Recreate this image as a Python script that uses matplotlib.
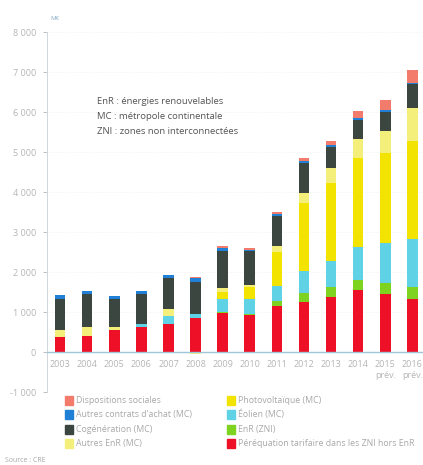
import matplotlib
matplotlib.use("Agg")
import matplotlib.pyplot as plt
from matplotlib.patches import Rectangle
import numpy as np

plt.rcParams['font.family'] = ['Open Sans', 'DejaVu Sans']

years = ["2003", "2004", "2005", "2006", "2007", "2008", "2009", "2010",
         "2011", "2012", "2013", "2014", "2015\nprév.", "2016\nprév."]

# Charges de service public de l'électricité, en M€
perequation = [375, 410, 540, 620, 705, 850, 980, 930, 1160, 1240, 1385, 1550, 1450, 1325]
enr_zni = [0, 0, 0, 0, 0, 0, 20, 30, 125, 240, 250, 250, 285, 310]
eolien = [0, 0, 0, 70, 185, 110, 325, 370, 375, 550, 650, 820, 985, 1185]
photovoltaique = [0, 0, 0, 0, 0, 0, 175, 290, 835, 1700, 1950, 2225, 2250, 2465]
autres_enr = [170, 210, 80, 20, 190, -40, 100, 60, 165, 235, 360, 480, 565, 810]
cogeneration = [790, 835, 710, 750, 775, 800, 935, 835, 750, 765, 525, 475, 475, 610]
autres_contrats = [85, 65, 60, 60, 75, 85, 65, 40, 30, 40, 50, 40, 30, 20]
dispositions_sociales = [0, 0, 0, 0, 0, 40, 60, 50, 60, 70, 110, 180, 265, 325]

series = [
    ("Péréquation tarifaire dans les ZNI hors EnR", perequation, "#ee1026"),
    ("EnR (ZNI)", enr_zni, "#7ed321"),
    ("Éolien (MC)", eolien, "#5fd2e6"),
    ("Photovoltaïque (MC)", photovoltaique, "#f2e400"),
    ("Autres EnR (MC)", autres_enr, "#f3ef7a"),
    ("Cogénération (MC)", cogeneration, "#3c4641"),
    ("Autres contrats d'achat (MC)", autres_contrats, "#1f80d6"),
    ("Dispositions sociales", dispositions_sociales, "#f27b6b"),
]

W, H = 423, 465
fig = plt.figure(figsize=(W / 100, H / 100), dpi=100)
ax = fig.add_axes([47 / W, 1 - 392 / H, (W - 47) / W, 360 / H])

x = np.arange(len(years))
pos_base = np.zeros(len(years))
neg_base = np.zeros(len(years))
for name, vals, color in series:
    v = np.array(vals, dtype=float)
    pos = np.where(v > 0, v, 0)
    neg = np.where(v < 0, v, 0)
    ax.bar(x, pos, bottom=pos_base, width=0.39, color=color, linewidth=0)
    ax.bar(x, neg, bottom=neg_base, width=0.39, color=color, linewidth=0)
    pos_base += pos
    neg_base += neg

ax.set_xlim(-0.48, 13.39)
ax.set_ylim(-1000, 8000)
ticks = list(range(-1000, 8001, 1000))
ax.set_yticks(ticks)
ax.set_yticklabels([("%d" % t if abs(t) < 1000 else
                     ("-" if t < 0 else "") + "%d 000" % (abs(t) // 1000))
                    for t in ticks])
ax.set_xticks(x)
ax.set_xticklabels(years)

grey = "#b5b5b5"
ax.tick_params(axis="y", colors=grey, labelsize=6.5, length=3, width=0.6, pad=5)
ax.tick_params(axis="x", colors=grey, labelsize=6.5, length=0, pad=6)
for s in ["top", "right"]:
    ax.spines[s].set_visible(False)
# year labels sit right under the zero line
ax.spines["bottom"].set_position(("data", 0))
ax.spines["bottom"].set_color("#9fc6d8")
ax.spines["bottom"].set_linewidth(1.0)
ax.spines["left"].set_color("#d0d6da")
ax.spines["left"].set_linewidth(0.7)
ax.grid(axis="y", color="#efefef", linestyle=":", linewidth=0.6)
ax.set_axisbelow(True)

fig.text(50 / W, 1 - 18 / H, "M€", fontsize=4.5, color="#8fb0c8", va="center")

notes = ["EnR : énergies renouvelables",
         "MC : métropole continentale",
         "ZNI : zones non interconnectées"]
for i, t in enumerate(notes):
    fig.text(97 / W, 1 - (101 + 15 * i) / H, t, fontsize=6.8, color="#555555",
             va="center")

# Legend, two columns of four entries
legend_cols = [
    [series[7], series[6], series[5], series[4]],
    [series[3], series[2], series[1], series[0]],
]
col_x = [65, 227]
row_y = [400, 414.5, 429, 443.5]
for cx, col in zip(col_x, legend_cols):
    for ry, (name, _, color) in zip(row_y, col):
        fig.patches.append(Rectangle((cx / W, 1 - (ry + 4.5) / H), 8 / W, 9 / H,
                                     transform=fig.transFigure, color=color))
        fig.text((cx + 11) / W, 1 - ry / H, name, fontsize=6.3, color="#a8a8a8",
                 va="center")

fig.text(5 / W, 1 - 460 / H, "Source : CRE", fontsize=5, color="#a8a8a8", va="center")

fig.savefig("out.png", dpi=100)
